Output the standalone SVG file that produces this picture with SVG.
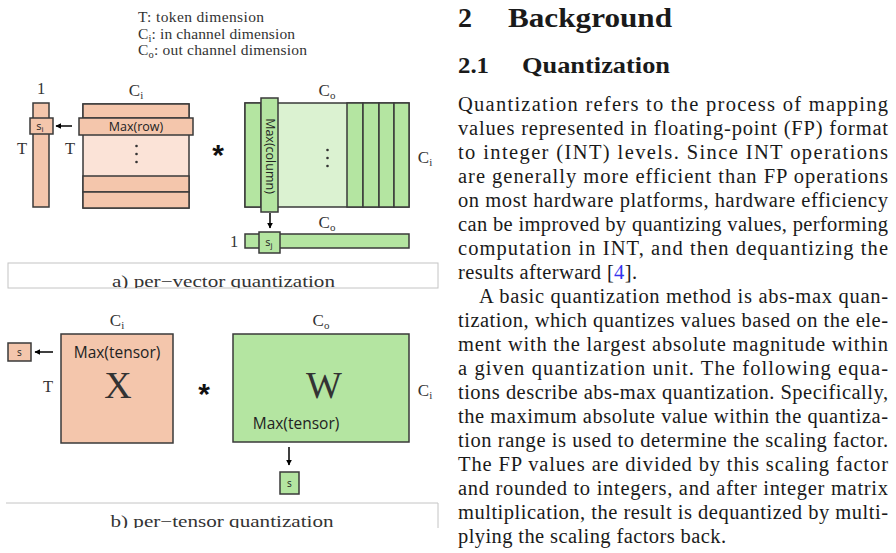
<svg xmlns="http://www.w3.org/2000/svg" width="896" height="553" viewBox="0 0 896 553">
<style>
.pk{fill:#F4C6AC;stroke:#3a3a3a;stroke-width:1.5}
.lp{fill:#FBE3D7;stroke:#3a3a3a;stroke-width:1.5}
.gr{fill:#B4E5A1;stroke:#3a3a3a;stroke-width:1.5}
.lg{fill:#DBF2D1;stroke:#3a3a3a;stroke-width:1.5}
.lbl{font-family:"Liberation Serif",serif;fill:#333;text-anchor:middle}
.cl{font-size:17px}
.tl{font-size:16.5px}
.sans{font-family:"Open Sans","Noto Sans",sans-serif;fill:#222;text-anchor:middle}
.star{font-family:"Liberation Sans",sans-serif;font-weight:bold;font-size:30px;fill:#111;text-anchor:middle}
.leg{font-family:"Liberation Serif",serif;font-size:15.5px;fill:#333}
.cap{font-family:"Liberation Serif",serif;font-size:16px;fill:#333;text-anchor:middle}
.body{font-family:"Liberation Serif",serif;font-size:20.5px;fill:#1a1a1a}
.hd{font-family:"Liberation Serif",serif;font-weight:bold;fill:#1a1a1a}
.conn line{stroke:#000;stroke-width:1.5}
.dot{fill:#333}
</style>
<defs>
<marker id="ah" viewBox="0 0 10 10" refX="9" refY="5" markerWidth="4" markerHeight="4" orient="auto-start-reverse" markerUnits="strokeWidth">
<path d="M0,0 L10,5 L0,10 z" fill="#000"/>
</marker>
<clipPath id="capA"><rect x="0" y="255" width="440" height="33"/></clipPath>
<clipPath id="capB"><rect x="0" y="495" width="440" height="33"/></clipPath>
</defs>
<rect width="896" height="553" fill="#fff"/>

<!-- legend -->
<g id="legend">
<text class="leg" x="138" y="22" textLength="126" lengthAdjust="spacing">T: token dimension</text>
<text class="leg" x="138" y="38.5" textLength="157" lengthAdjust="spacing">C<tspan font-size="10.5" dy="3">i</tspan><tspan dy="-3">: in channel dimension</tspan></text>
<text class="leg" x="138" y="55" textLength="169" lengthAdjust="spacing">C<tspan font-size="10.5" dy="3">o</tspan><tspan dy="-3">: out channel dimension</tspan></text>
</g>

<!-- part a -->
<g id="scale-col-a">
<rect class="pk" x="33" y="103" width="16" height="104"/>
<rect class="pk" x="30" y="118" width="23" height="16"/>
<text class="sans" x="40" y="130" font-size="11">s<tspan font-size="8" dy="2">i</tspan></text>
<text class="lbl tl" x="41" y="94">1</text>
<text class="lbl tl" x="22" y="154">T</text>
</g>

<g id="matrix-x-a">
<rect class="lp" x="83" y="104" width="106" height="104"/>
<rect class="pk" x="83" y="104" width="106" height="14"/>
<rect class="pk" x="83" y="176" width="106" height="16"/>
<rect class="pk" x="83" y="192" width="106" height="16"/>
<rect class="pk" x="79" y="118" width="114" height="17"/>
<text class="sans" x="136" y="131" font-size="12.5">Max(row)</text>
<circle class="dot" cx="136.5" cy="146" r="1.3"/>
<circle class="dot" cx="136.5" cy="154" r="1.3"/>
<circle class="dot" cx="136.5" cy="162" r="1.3"/>
<text class="lbl cl" x="136" y="96">C<tspan font-size="11" dy="3">i</tspan></text>
<text class="lbl tl" x="70" y="154">T</text>
</g>

<text id="mul-a" class="star" x="218" y="165">*</text>

<g id="matrix-w-a">
<rect class="lg" x="245" y="103" width="164" height="104"/>
<rect class="gr" x="245" y="103" width="16" height="104"/>
<rect class="gr" x="347" y="103" width="16" height="104"/>
<rect class="gr" x="363" y="103" width="16" height="104"/>
<rect class="gr" x="379" y="103" width="15" height="104"/>
<rect class="gr" x="394" y="103" width="15" height="104"/>
<rect class="gr" x="261" y="98" width="17" height="114"/>
<text class="sans" font-size="12.5" transform="translate(266,156) rotate(90)">Max(column)</text>
<circle class="dot" cx="327.5" cy="150" r="1.3"/>
<circle class="dot" cx="327.5" cy="158" r="1.3"/>
<circle class="dot" cx="327.5" cy="166" r="1.3"/>
<text class="lbl cl" x="327" y="96">C<tspan font-size="11" dy="3">o</tspan></text>
<text class="lbl cl" x="425" y="163">C<tspan font-size="11" dy="3">i</tspan></text>
</g>

<g id="scale-row-a">
<rect class="gr" x="245" y="234" width="164" height="14"/>
<rect class="gr" x="259" y="232" width="21" height="21"/>
<text class="sans" x="269" y="246" font-size="11">s<tspan font-size="8" dy="2">j</tspan></text>
<text class="lbl tl" x="234" y="247">1</text>
<text class="lbl cl" x="327" y="228">C<tspan font-size="11" dy="3">o</tspan></text>
</g>

<g id="caption-a">
<rect x="8" y="263" width="430" height="25" fill="none" stroke="#c4c4c4" stroke-width="1"/>
<text class="cap" x="223.5" y="287" clip-path="url(#capA)" textLength="223" lengthAdjust="spacingAndGlyphs">a) per−vector quantization</text>
</g>

<!-- part b -->
<g id="scale-b-x">
<rect class="pk" x="8" y="343" width="23" height="18"/>
<text class="sans" x="19.5" y="356" font-size="10">s</text>
</g>

<g id="matrix-x-b">
<rect class="pk" x="61" y="334" width="112" height="109"/>
<text class="sans" x="117" y="358" font-size="15.5">Max(tensor)</text>
<text class="lbl" x="118" y="398" font-size="38" fill="#111">X</text>
<text class="lbl cl" x="117" y="326">C<tspan font-size="11" dy="3">i</tspan></text>
<text class="lbl tl" x="48" y="392">T</text>
</g>

<text id="mul-b" class="star" x="204" y="404">*</text>

<g id="matrix-w-b">
<rect class="gr" x="233" y="334" width="176" height="108"/>
<text class="lbl" x="324" y="398" font-size="38" fill="#111">W</text>
<text class="sans" x="296" y="429" font-size="15.5">Max(tensor)</text>
<text class="lbl cl" x="321" y="326">C<tspan font-size="11" dy="3">o</tspan></text>
<text class="lbl cl" x="425" y="396">C<tspan font-size="11" dy="3">i</tspan></text>
</g>

<g id="scale-b-w">
<rect class="gr" x="280" y="472" width="19" height="22"/>
<text class="sans" x="289.5" y="487" font-size="10">s</text>
</g>

<g id="caption-b">
<path d="M6,503 H438 V528" fill="none" stroke="#c4c4c4" stroke-width="1"/>
<text class="cap" x="222" y="527" clip-path="url(#capB)" textLength="223" lengthAdjust="spacingAndGlyphs">b) per−tensor quantization</text>
</g>

<!-- connectors -->
<g id="connectors" class="conn">
<line x1="72" y1="126" x2="56" y2="126" marker-end="url(#ah)"/>
<line x1="270" y1="213" x2="270" y2="228" marker-end="url(#ah)"/>
<line x1="53" y1="352" x2="35" y2="352" marker-end="url(#ah)"/>
<line x1="289" y1="447" x2="289" y2="465" marker-end="url(#ah)"/>
</g>

<!-- right column text -->
<g id="text-column">
<text class="hd" x="458" y="27" font-size="28">2</text>
<text class="hd" x="508" y="27" font-size="28" textLength="164" lengthAdjust="spacingAndGlyphs">Background</text>
<text class="hd" x="458" y="73" font-size="23" textLength="31" lengthAdjust="spacingAndGlyphs">2.1</text>
<text class="hd" x="522" y="73" font-size="23" textLength="148" lengthAdjust="spacingAndGlyphs">Quantization</text>

<text class="body" x="458" y="111" textLength="430" lengthAdjust="spacing">Quantization refers to the process of mapping</text>
<text class="body" x="458" y="135" textLength="430" lengthAdjust="spacing">values represented in floating-point (FP) format</text>
<text class="body" x="458" y="159" textLength="430" lengthAdjust="spacing">to integer (INT) levels.  Since INT operations</text>
<text class="body" x="458" y="183" textLength="430" lengthAdjust="spacing">are generally more efficient than FP operations</text>
<text class="body" x="458" y="207" textLength="430" lengthAdjust="spacing">on most hardware platforms, hardware efficiency</text>
<text class="body" x="458" y="231" textLength="430" lengthAdjust="spacing">can be improved by quantizing values, performing</text>
<text class="body" x="458" y="255" textLength="430" lengthAdjust="spacing">computation in INT, and then dequantizing the</text>
<text class="body" x="458" y="279" textLength="179" lengthAdjust="spacing">results afterward [<tspan fill="#3333ee">4</tspan>].</text>
<text class="body" x="479" y="303" textLength="409" lengthAdjust="spacing">A basic quantization method is abs-max quan-</text>
<text class="body" x="458" y="327" textLength="430" lengthAdjust="spacing">tization, which quantizes values based on the ele-</text>
<text class="body" x="458" y="351" textLength="430" lengthAdjust="spacing">ment with the largest absolute magnitude within</text>
<text class="body" x="458" y="375" textLength="430" lengthAdjust="spacing">a given quantization unit.  The following equa-</text>
<text class="body" x="458" y="399" textLength="430" lengthAdjust="spacing">tions describe abs-max quantization. Specifically,</text>
<text class="body" x="458" y="423" textLength="430" lengthAdjust="spacing">the maximum absolute value within the quantiza-</text>
<text class="body" x="458" y="447" textLength="430" lengthAdjust="spacing">tion range is used to determine the scaling factor.</text>
<text class="body" x="458" y="471" textLength="430" lengthAdjust="spacing">The FP values are divided by this scaling factor</text>
<text class="body" x="458" y="495" textLength="430" lengthAdjust="spacing">and rounded to integers, and after integer matrix</text>
<text class="body" x="458" y="519" textLength="430" lengthAdjust="spacing">multiplication, the result is dequantized by multi-</text>
<text class="body" x="458" y="543" textLength="268" lengthAdjust="spacing">plying the scaling factors back.</text>
</g>
</svg>
